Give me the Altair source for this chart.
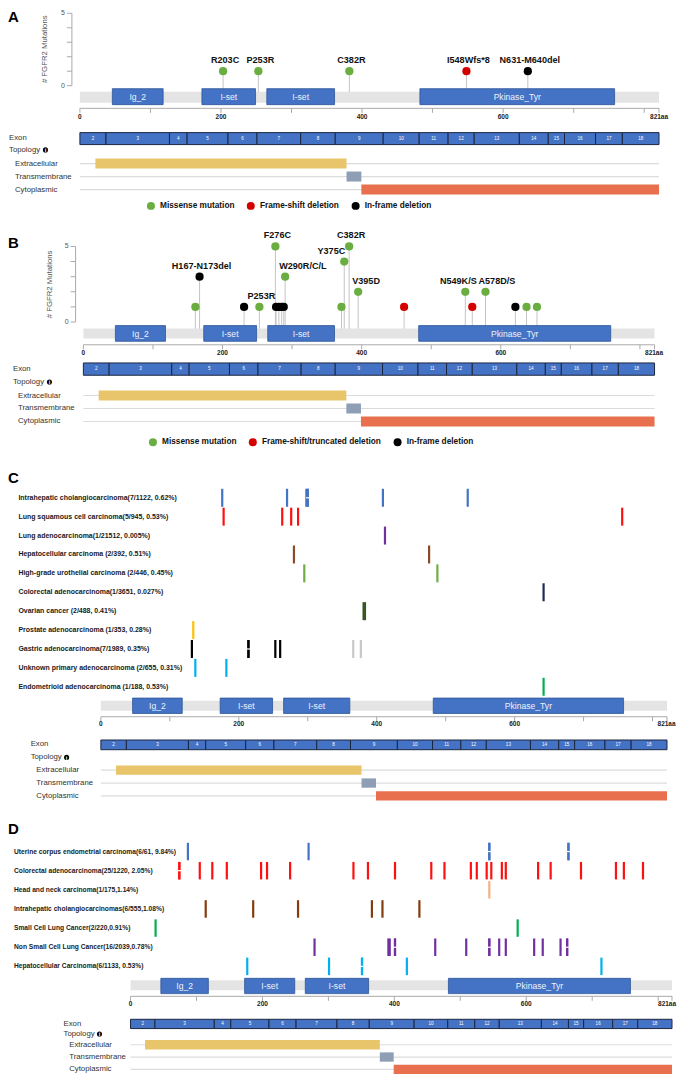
import altair as alt
import pandas as pd

FONT = "Liberation Sans"
W = 669
PROTEIN_LEN = 821

# ---------------- protein features ----------------
DOMAIN_NAMES = ["Ig_2", "I-set", "I-set", "Pkinase_Tyr"]
DOMAIN_START = [46, 173, 265, 482]
DOMAIN_END = [118, 249, 361, 758]

EXON_NAMES = ["2", "3", "4", "5", "6", "7", "8", "9", "10", "11", "12", "13", "14", "15", "16", "17", "18"]
EXON_BOUNDS = [0, 37, 127, 152, 210, 251, 313, 362, 430, 481, 522, 559, 623, 664, 687, 731, 769, 821]

TOPO_NAMES = ["Extracellular", "Transmembrane", "Cytoplasmic"]
TOPO_START = [22, 378, 399]
TOPO_END = [378, 399, 821]
TOPO_COLORS = ["#E8C56B", "#8E9EB4", "#E8704F"]

AXIS_TICKS = [0, 100, 200, 300, 400, 500, 600, 700, 800, 821]
AXIS_LABEL_POS = [0, 200, 400, 600]
AXIS_LABELS = ["0", "200", "400", "600"]
AXIS_END_LABEL = "821aa"

Y_TICKS = [0, 1, 2, 3, 4, 5]
Y_LABELED = [0, 5]
Y_TITLE = "# FGFR2 Mutations"

MUT_COLORS = ["#6AAE41", "#D40000", "#000000"]

# ---------------- panel A ----------------
A_TYPES = ["Missense mutation", "Frame-shift deletion", "In-frame deletion"]
A_POS = [203, 253, 382, 548, 635]
A_COUNT = [1, 1, 1, 1, 1]
A_TYPE_IDX = [0, 0, 0, 1, 2]
A_LABEL = ["R203C", "P253R", "C382R", "I548Wfs*8", "N631-M640del"]

# ---------------- panel B ----------------
B_TYPES = ["Missense mutation", "Frame-shift/truncated deletion", "In-frame deletion"]
B_POS = [161, 167, 231, 253, 276, 277, 281, 285, 288, 290, 371, 375, 382, 395, 461, 549, 559, 578, 621, 637, 652]
B_COUNT = [1, 3, 1, 1, 5, 1, 1, 1, 1, 3, 1, 4, 5, 2, 1, 2, 1, 2, 1, 1, 1]
B_TYPE_IDX = [0, 2, 2, 0, 0, 2, 2, 2, 2, 0, 0, 0, 0, 0, 1, 0, 1, 0, 2, 0, 0]
B_LABEL = ["", "H167-N173del", "", "P253R", "F276C", "", "", "", "", "W290R/C/L", "", "Y375C",
           "C382R", "V395D", "", "N549K/S", "", "A578D/S", "", "", ""]

# ---------------- panel C ----------------
C_ROWS = [
    "Intrahepatic cholangiocarcinoma(7/1122, 0.62%)",
    "Lung squamous cell carcinoma(5/945, 0.53%)",
    "Lung adenocarcinoma(1/21512, 0.005%)",
    "Hepatocellular carcinoma (2/392, 0.51%)",
    "High-grade urothelial carcinoma (2/446, 0.45%)",
    "Colorectal adenocarcinoma(1/3651, 0.027%)",
    "Ovarian cancer (2/488, 0.41%)",
    "Prostate adenocarcinoma (1/353, 0.28%)",
    "Gastric adenocarcinoma(7/1989, 0.35%)",
    "Unknown primary adenocarcinoma (2/655, 0.31%)",
    "Endometrioid adenocarcinoma (1/188, 0.53%)",
]
C_COLORS = ["#4472C4", "#FF1010", "#7030A0", "#8B4A2B", "#70AD47", "#1F2A5C",
            "#375623", "#FFC000", "#000000", "#00B0F0", "#00B050"]
C_POS = [
    [176, 270, 298, 300, 300, 409, 532],
    [178, 263, 276, 286, 756],
    [412],
    [280, 476],
    [295, 488],
    [642],
    [381, 383],
    [134],
    [132, 214, 214, 253, 260],
    [137, 182],
    [642],
]
C_GASTRIC_GRAY = [366, 377]

# ---------------- panel D ----------------
D_ROWS = [
    "Uterine corpus endometrial carcinoma(6/61, 9.84%)",
    "Colorectal adenocarcinoma(25/1220, 2.05%)",
    "Head and neck carcinoma(1/175,1.14%)",
    "Intrahepatic cholangiocarcinomas(6/555,1.08%)",
    "Small Cell Lung Cancer(2/220,0.91%)",
    "Non Small Cell Lung Cancer(16/2039,0.78%)",
    "Hepatocellular Carcinoma(6/1133, 0.53%)",
]
D_COLORS = ["#4472C4", "#FF1010", "#F4B183", "#843C0C", "#00B050", "#7030A0", "#00B0F0"]
D_POS = [
    [87, 270, 544, 544, 664, 664],
    [74, 74, 105, 124, 146, 198, 207, 242, 338, 360, 401, 456, 476, 516, 525, 540, 547,
     563, 569, 618, 637, 683, 736, 748, 777],
    [544],
    [114, 186, 254, 366, 382, 438],
    [38, 587],
    [279, 391, 393, 401, 401, 462, 509, 544, 544, 559, 569, 612, 625, 652, 662, 662],
    [177, 301, 351, 351, 419, 714],
]

# label placement styles (align, dx) for lollipop annotations
B_LABEL_STYLE = {
    "Y375C": ("right", 1),
    "W290R/C/L": ("left", -6),
    "V395D": ("left", -6),
    "N549K/S": ("center", -7),
    "A578D/S": ("left", -7),
}


def xscale(x0, x1):
    return alt.Scale(domain=[0, PROTEIN_LEN], range=[x0, x1], nice=False, zero=False)


def text_at(t, x, y, align="left", **kw):
    return alt.Chart(pd.DataFrame({"t": [t]})).mark_text(
        align=align, baseline="middle", font=FONT, **kw
    ).encode(x=alt.value(x), y=alt.value(y), text="t:N")


def protein_tracks(xs, L):
    def X(f):
        return alt.X(f, scale=xs, axis=None)

    prot = pd.DataFrame({"s": [0], "e": [PROTEIN_LEN]})
    dom = pd.DataFrame({"name": DOMAIN_NAMES, "s": DOMAIN_START, "e": DOMAIN_END})
    exo = pd.DataFrame({"name": EXON_NAMES, "s": EXON_BOUNDS[:-1], "e": EXON_BOUNDS[1:]})
    topo = pd.DataFrame({"name": TOPO_NAMES, "s": TOPO_START, "e": TOPO_END,
                         "z": [0] * len(TOPO_NAMES), "L": [PROTEIN_LEN] * len(TOPO_NAMES)})
    ticks = pd.DataFrame({"t": AXIS_TICKS})
    labs = pd.DataFrame({"t": AXIS_LABEL_POS, "l": AXIS_LABELS})
    endl = pd.DataFrame({"t": [PROTEIN_LEN], "l": [AXIS_END_LABEL]})
    tps = alt.Scale(type="point", domain=TOPO_NAMES,
                    range=[L["topo_c0"], L["topo_c0"] + 2 * L["topo_step"]], padding=0)
    TY = alt.Y("name:N", scale=tps, axis=None)

    bar = alt.Chart(prot).mark_rect(color="#E4E4E4").encode(
        x=X("s:Q"), x2="e:Q", y=alt.value(L["bar"][0]), y2=alt.value(L["bar"][1]))
    doms = alt.Chart(dom).mark_rect(fill="#4472C4", stroke="#2F5597", strokeWidth=0.8).encode(
        x=X("s:Q"), x2="e:Q", y=alt.value(L["dom"][0]), y2=alt.value(L["dom"][1]))
    domt = alt.Chart(dom).transform_calculate(m="(datum.s + datum.e) / 2").mark_text(
        color="#EEF2FA", fontSize=8.6, font=FONT, baseline="middle").encode(
        x=X("m:Q"), y=alt.value(L["domc"]), text="name:N")
    axl = alt.Chart(prot).mark_rule(color="#AAAAAA", strokeWidth=1).encode(
        x=X("s:Q"), x2="e:Q", y=alt.value(L["ay"]))
    axt = alt.Chart(ticks).mark_rule(color="#AAAAAA", strokeWidth=1).encode(
        x=X("t:Q"), y=alt.value(L["ay"]), y2=alt.value(L["ay"] + 4.5))
    axlab = alt.Chart(labs).mark_text(fontSize=6.5, fontWeight="bold", font=FONT, color="#222",
                                      baseline="middle").encode(
        x=X("t:Q"), y=alt.value(L["axl"]), text="l:N")
    axend = alt.Chart(endl).mark_text(fontSize=6.5, fontWeight="bold", font=FONT, color="#222",
                                      baseline="middle", align="left", dx=L["enddx"]).encode(
        x=X("t:Q"), y=alt.value(L["axl"]), text="l:N")
    exr = alt.Chart(exo).mark_rect(fill="#4472C4", stroke="#1C2640", strokeWidth=1).encode(
        x=X("s:Q"), x2="e:Q", y=alt.value(L["ex"][0]), y2=alt.value(L["ex"][1]))
    ext = alt.Chart(exo).transform_calculate(m="(datum.s + datum.e) / 2").mark_text(
        color="white", fontSize=4.6, font=FONT, baseline="middle").encode(
        x=X("m:Q"), y=alt.value((L["ex"][0] + L["ex"][1]) / 2), text="name:N")
    tline = alt.Chart(topo).mark_rule(color="#DCDCDC", strokeWidth=1.2).encode(
        x=X("z:Q"), x2="L:Q", y=TY)
    tbar = alt.Chart(topo).mark_rule(strokeWidth=L["topo_bh"], strokeCap="butt", opacity=1).encode(
        x=X("s:Q"), x2="e:Q", y=TY,
        color=alt.Color("name:N", scale=alt.Scale(domain=TOPO_NAMES, range=TOPO_COLORS), legend=None))
    tlab = alt.Chart(topo).mark_text(align="left", baseline="middle", fontSize=7.8, font=FONT,
                                     color="#333333").encode(
        x=alt.value(L["topo_lx"]), y=TY, text="name:N")
    exon_lbl = text_at("Exon", L["exon_lbl"][0], L["exon_lbl"][1], fontSize=7.8, color="#333333")
    topo_lbl = text_at("Topology", L["topo_lbl"][0], L["topo_lbl"][1], fontSize=7.8, color="#333333")
    icon = alt.Chart(pd.DataFrame({"t": ["i"]})).mark_circle(color="black", size=26, opacity=1).encode(
        x=alt.value(L["icon_x"]), y=alt.value(L["topo_lbl"][1]))
    icon_t = text_at("i", L["icon_x"], L["topo_lbl"][1] + 0.3, align="center", fontSize=5.5,
                     fontWeight="bold", color="white")
    front = [axl, axt, axlab, axend, exr, ext, tline, tbar, tlab, exon_lbl, topo_lbl, icon, icon_t]
    return [bar, doms, domt], front


def y_axis(ys, ax, tx, ty):
    yl = alt.Chart(pd.DataFrame({"lo": [min(Y_TICKS)], "hi": [max(Y_TICKS)]})).mark_rule(
        color="#AAAAAA").encode(x=alt.value(ax), y=alt.Y("lo:Q", scale=ys, axis=None), y2="hi:Q")
    yt = alt.Chart(pd.DataFrame({"v": Y_TICKS})).mark_rule(color="#AAAAAA").encode(
        x=alt.value(ax - 5), x2=alt.value(ax), y=alt.Y("v:Q", scale=ys, axis=None))
    ylab = alt.Chart(pd.DataFrame({"v": Y_LABELED, "l": [str(v) for v in Y_LABELED]})).mark_text(
        align="right", baseline="middle", fontSize=7, font=FONT, color="#555555").encode(
        x=alt.value(ax - 7), y=alt.Y("v:Q", scale=ys, axis=None), text="l:N")
    ytitle = alt.Chart(pd.DataFrame({"t": [Y_TITLE]})).mark_text(
        angle=270, baseline="middle", fontSize=7.8, font=FONT, color="#555555").encode(
        x=alt.value(tx), y=alt.value(ty), text="t:N")
    return [yl, yt, ylab, ytitle]


def lollipop(pos, cnt, tidx, labels, types, xs, ys, stem_bottom, styles, legend_xy):
    df = pd.DataFrame({"aa": pos, "n": cnt, "type": [types[i] for i in tidx], "label": labels})
    X = alt.X("aa:Q", scale=xs, axis=None)
    Y = alt.Y("n:Q", scale=ys, axis=None)
    stems = alt.Chart(df).mark_rule(color="#C4C4C4", strokeWidth=1).encode(
        x=X, y=Y, y2=alt.value(stem_bottom))
    heads = alt.Chart(df).mark_circle(size=68, opacity=1).encode(
        x=X, y=Y,
        color=alt.Color("type:N", scale=alt.Scale(domain=types, range=MUT_COLORS),
                        legend=alt.Legend(orient="none", legendX=legend_xy[0], legendY=legend_xy[1],
                                          direction="horizontal", title=None, labelFont=FONT,
                                          labelFontSize=8.3, labelFontWeight="bold", labelColor="#111111",
                                          symbolType="circle", symbolSize=64, symbolStrokeWidth=0,
                                          symbolOpacity=1, labelOffset=5, columnPadding=12,
                                          padding=0, labelLimit=400)))
    groups = {}
    for lab in labels:
        if lab:
            groups.setdefault(styles.get(lab, ("center", 2)), []).append(lab)
    texts = []
    for (al, dx), labs in groups.items():
        texts.append(alt.Chart(df).transform_filter(
            alt.FieldOneOfPredicate(field="label", oneOf=labs)).mark_text(
            align=al, dx=dx, dy=-11, baseline="middle", fontSize=9.1, fontWeight="bold",
            font=FONT, color="#111111").encode(x=X, y=Y, text="label:N"))
    return [stems], [heads] + texts


def cancer_rows(rows, pos_lists, colors, xs, c_first, c_last, tick_size, label_x, label_size,
                gray_row=None, gray_pos=None):
    recs = [{"row": r, "aa": p} for r, ps in zip(rows, pos_lists) for p in ps]
    df = pd.DataFrame(recs)
    ysc = alt.Scale(type="point", domain=rows, range=[c_first, c_last], padding=0)
    X = alt.X("aa:Q", scale=xs, axis=None)
    Y = alt.Y("row:N", scale=ysc, axis=None)
    layers = [alt.Chart(df).mark_tick(thickness=2.2, size=tick_size, opacity=1).encode(
        x=X, y=Y, color=alt.Color("row:N", scale=alt.Scale(domain=rows, range=colors), legend=None))]
    if gray_row is not None:
        g = pd.DataFrame({"row": [gray_row] * len(gray_pos), "aa": gray_pos})
        layers.append(alt.Chart(g).mark_tick(thickness=2.2, size=tick_size, opacity=1,
                                             color="#C8C8C8").encode(x=X, y=Y))
    # overlapping (repeated) mutations are shown with a small white notch
    dup = df[df.duplicated(["row", "aa"], keep="first")]
    if len(dup):
        layers.append(alt.Chart(dup).mark_tick(orient="horizontal", thickness=1.2, size=3.5,
                                               opacity=1, color="white").encode(x=X, y=Y))
    layers.append(alt.Chart(pd.DataFrame({"row": rows})).mark_text(
        align="left", baseline="middle", fontSize=label_size, fontWeight="bold", font=FONT,
        color="#1A1A1A").encode(x=alt.value(label_x), y=Y, text="row:N"))
    return layers


def letter(t, y):
    return text_at(t, 0, y, fontSize=15, fontWeight="bold", color="black")


# ---------------- Panel A ----------------
xsA = xscale(72, 652)
ysA = alt.Scale(domain=[min(Y_TICKS), max(Y_TICKS)], range=[76, 3.5], nice=False, zero=False)
LA = dict(bar=(82, 93), dom=(79, 95), domc=87, ay=98.7, axl=107, enddx=-9, ex=(123, 135),
          exon_lbl=(1, 128.5), topo_lbl=(1, 140.3), icon_x=37.5,
          topo_c0=154, topo_step=13, topo_bh=10, topo_lx=7)
backA, frontA = protein_tracks(xsA, LA)
stA, lolA = lollipop(A_POS, A_COUNT, A_TYPE_IDX, A_LABEL, A_TYPES, xsA, ysA, 86, {}, (139, 191.8))
panelA = alt.layer(*(stA + backA + lolA + y_axis(ysA, 64, 37, 39.5) + frontA + [letter("A", 7.5)])
                   ).resolve_scale(y="independent", color="independent").properties(width=W, height=222)

# ---------------- Panel B ----------------
xsB = xscale(75.5, 647.5)
ysB = alt.Scale(domain=[min(Y_TICKS), max(Y_TICKS)], range=[90.7, 15], nice=False, zero=False)
LB = dict(bar=(97.3, 107.3), dom=(94.3, 110), domc=102.2, ay=113.5, axl=122, enddx=-9.5,
          ex=(131.7, 144), exon_lbl=(5, 137.8), topo_lbl=(5, 150.7), icon_x=41.5,
          topo_c0=164.3, topo_step=13, topo_bh=10, topo_lx=10)
backB, frontB = protein_tracks(xsB, LB)
stB, lolB = lollipop(B_POS, B_COUNT, B_TYPE_IDX, B_LABEL, B_TYPES, xsB, ysB, 100, B_LABEL_STYLE,
                     (141, 206.5))
panelB = alt.layer(*(stB + backB + lolB + y_axis(ysB, 67.7, 42, 53) + frontB + [letter("B", 12)])
                   ).resolve_scale(y="independent", color="independent").properties(width=W, height=232)

# ---------------- Panel C ----------------
xsC = xscale(93, 660)
LC = dict(bar=(238, 248), dom=(235.3, 250.7), domc=243, ay=254, axl=261.3, enddx=-9.5,
          ex=(277.3, 287), exon_lbl=(22.7, 281.5), topo_lbl=(22.7, 294.7), icon_x=58.7,
          topo_c0=307.5, topo_step=12.9, topo_bh=9.3, topo_lx=28.4)
backC, frontC = protein_tracks(xsC, LC)
rowsC = cancer_rows(C_ROWS, C_POS, C_COLORS, xsC, 34.7, 224, 18, 10.4, 7,
                    gray_row=C_ROWS[8], gray_pos=C_GASTRIC_GRAY)
panelC = alt.layer(*(rowsC + backC + frontC + [letter("C", 14.7)])
                   ).resolve_scale(y="independent", color="independent").properties(width=W, height=350)

# ---------------- Panel D ----------------
xsD = xscale(122.7, 665)
LD = dict(bar=(168, 178), dom=(166, 181.3), domc=173.7, ay=184, axl=191.3, enddx=-14,
          ex=(207, 216.3), exon_lbl=(55.6, 211.6), topo_lbl=(55.6, 221.8), icon_x=91.6,
          topo_c0=232.5, topo_step=12.3, topo_bh=9.3, topo_lx=61.3)
backD, frontD = protein_tracks(xsD, LD)
rowsD = cancer_rows(D_ROWS, D_POS, D_COLORS, xsD, 39, 154, 17.5, 6, 6.7)
panelD = alt.layer(*(rowsD + backD + frontD + [letter("D", 16.3)])
                   ).resolve_scale(y="independent", color="independent").properties(width=W, height=262)

chart = alt.vconcat(panelA, panelB, panelC, panelD, spacing=0).resolve_scale(
    color="independent", x="independent", y="independent"
).properties(padding=0).configure_view(strokeWidth=0)

chart.save("out.html", embed_options={"renderer": "svg", "actions": False})
